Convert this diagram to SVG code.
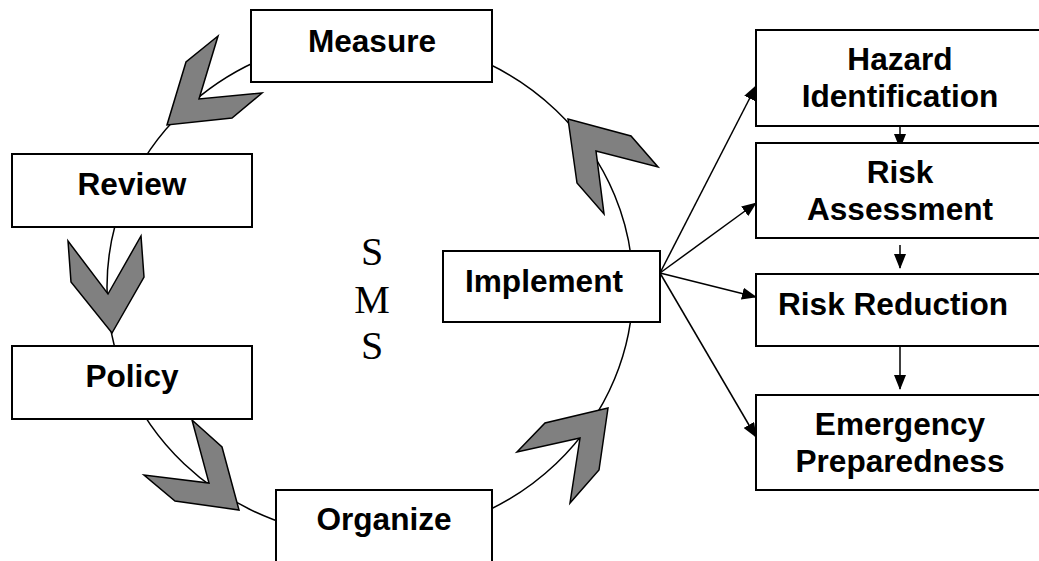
<svg xmlns="http://www.w3.org/2000/svg" width="1039" height="561" viewBox="0 0 1039 561">
<style>
.box{fill:#fff;stroke:#000;stroke-width:2}
.lbl{font-family:"Liberation Sans",Arial,sans-serif;font-weight:bold;font-size:31.6px;fill:#000;text-anchor:middle}
.chev{fill:#808080;stroke:#000;stroke-width:1.5;stroke-linejoin:miter}
.conn{stroke:#000;stroke-width:1.5;fill:none}
.sms{font-family:"Liberation Serif","Times New Roman",serif;font-size:40px;fill:#000;text-anchor:middle}
</style>
<defs>
<marker id="ah" markerUnits="userSpaceOnUse" markerWidth="15" markerHeight="12" refX="14" refY="6" orient="auto">
<path d="M0,0 L15,6 L0,12 Z" fill="#000"/>
</marker>
</defs>
<rect width="1039" height="561" fill="#fff"/>
<g id="cycle">
<ellipse cx="370" cy="287" rx="263" ry="250" fill="none" stroke="#000" stroke-width="1.5"/>
</g>
<g id="chevrons">
<polygon class="chev" points="218,36 186,62 167,125 232,118 262,93 199,99"/>
<polygon class="chev" points="68,241 71,282 112,333 144,277 141,236 108,294"/>
<polygon class="chev" points="192,420 222,447 239,510 175,501 144,475 209,483"/>
<polygon class="chev" points="608,408 599,470 570,503 580,438 517,452 545,423"/>
<polygon class="chev" points="568,119 577,183 604,214 596,151 658,167 631,136"/>
</g>
<g id="connectors">
<line class="conn" x1="660" y1="273" x2="756" y2="86" marker-end="url(#ah)"/>
<line class="conn" x1="660" y1="273" x2="756" y2="203" marker-end="url(#ah)"/>
<line class="conn" x1="660" y1="273" x2="756" y2="297" marker-end="url(#ah)"/>
<line class="conn" x1="660" y1="273" x2="756" y2="437" marker-end="url(#ah)"/>
<line class="conn" x1="900" y1="126" x2="900" y2="148" marker-end="url(#ah)"/>
<line class="conn" x1="900" y1="245" x2="900" y2="268" marker-end="url(#ah)"/>
<line class="conn" x1="900" y1="341" x2="900" y2="389" marker-end="url(#ah)"/>
</g>
<g id="measure"><rect class="box" x="251" y="10" width="241" height="72"/><text class="lbl" x="372" y="52">Measure</text></g>
<g id="review"><rect class="box" x="12" y="154" width="240" height="73"/><text class="lbl" x="132" y="195">Review</text></g>
<g id="policy"><rect class="box" x="12" y="346" width="240" height="73"/><text class="lbl" x="132" y="387">Policy</text></g>
<g id="organize"><rect class="box" x="276" y="490" width="216" height="90"/><text class="lbl" x="384" y="530">Organize</text></g>
<g id="implement"><rect class="box" x="443" y="251" width="217" height="71"/><text class="lbl" x="544" y="292">Implement</text></g>
<g id="hazard"><rect class="box" x="756" y="30" width="290" height="96"/><text class="lbl" x="900" y="70">Hazard</text><text class="lbl" x="900" y="107">Identification</text></g>
<g id="risk-assessment"><rect class="box" x="756" y="143" width="290" height="95"/><text class="lbl" x="900" y="183">Risk</text><text class="lbl" x="900" y="220">Assessment</text></g>
<g id="risk-reduction"><rect class="box" x="756" y="274" width="290" height="72"/><text class="lbl" x="893" y="315">Risk Reduction</text></g>
<g id="emergency"><rect class="box" x="756" y="395" width="290" height="95"/><text class="lbl" x="900" y="435">Emergency</text><text class="lbl" x="900" y="472">Preparedness</text></g>
<g id="sms-label">
<text class="sms" x="372" y="265">S</text>
<text class="sms" x="372" y="313">M</text>
<text class="sms" x="372" y="359">S</text>
</g>
</svg>
